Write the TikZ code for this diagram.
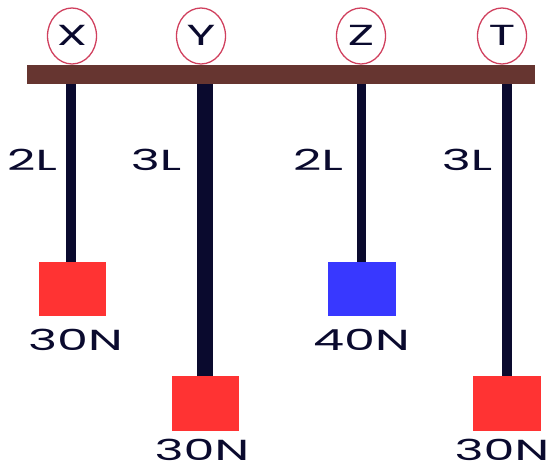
\documentclass[tikz,border=0pt]{standalone}
\usepackage{fontspec}
\usetikzlibrary{shapes.geometric}
\newfontfamily\labfont[FakeStretch=1.7]{Poppins}
\begin{document}
\begin{tikzpicture}[x=1pt,y=-1pt,
  lab/.style={font=\labfont\fontsize{29}{29}\selectfont, text=ink, inner sep=0pt, text height=20pt, text depth=0pt},
  tag/.style={ellipse, draw=ring, line width=1.3pt, minimum width=49pt, minimum height=56pt, inner sep=0pt, text height=20pt, text depth=0pt, font=\labfont\fontsize{29}{29}\selectfont, text=ink},
  rope/.style={draw=ink, line width=9.5pt},
  thickrope/.style={draw=ink, line width=16pt}]
\definecolor{ink}{HTML}{0A0A2E}
\definecolor{ring}{HTML}{D0405E}
\definecolor{barc}{HTML}{663530}
\definecolor{boxred}{HTML}{FF3333}
\definecolor{boxblue}{HTML}{3838FF}
\useasboundingbox (0,0) rectangle (551,470);
% bar
\fill[barc] (27,65) rectangle (535,84);
% ropes
\coordinate (xa) at (71,84); \coordinate (xb) at (71,262);
\coordinate (ya) at (205,84); \coordinate (yb) at (205,376);
\coordinate (za) at (361.5,84); \coordinate (zb) at (361.5,262);
\coordinate (ta) at (507,84); \coordinate (tb) at (507,376);
\draw[rope] (xa) -- (xb);
\draw[thickrope] (ya) -- (yb);
\draw[rope] (za) -- (zb);
\draw[rope] (ta) -- (tb);
% boxes
\fill[boxred] (39,262) rectangle (106,316);
\fill[boxblue] (328,262) rectangle (396,316);
\fill[boxred] (172,376) rectangle (239,431);
\fill[boxred] (473,376) rectangle (541,431);
% tags
\node[tag] (tx) at (72,36) {X};
\node[tag] (ty) at (201,36) {Y};
\node[tag] (tz) at (361,36) {Z};
\node[tag] (tt) at (502,36) {T};
% length labels
\node[lab] (lx) at (32,161) {2L};
\node[lab] (ly) at (156,161) {3L};
\node[lab] (lz) at (318,161) {2L};
\node[lab] (lt) at (467,161) {3L};
% weight labels
\node[lab] (wx) at (75.5,340) {30N};
\node[lab] (wz) at (361.5,340) {40N};
\node[lab] (wy) at (202,450) {30N};
\node[lab] (wt) at (502,450) {30N};
\end{tikzpicture}
\end{document}
